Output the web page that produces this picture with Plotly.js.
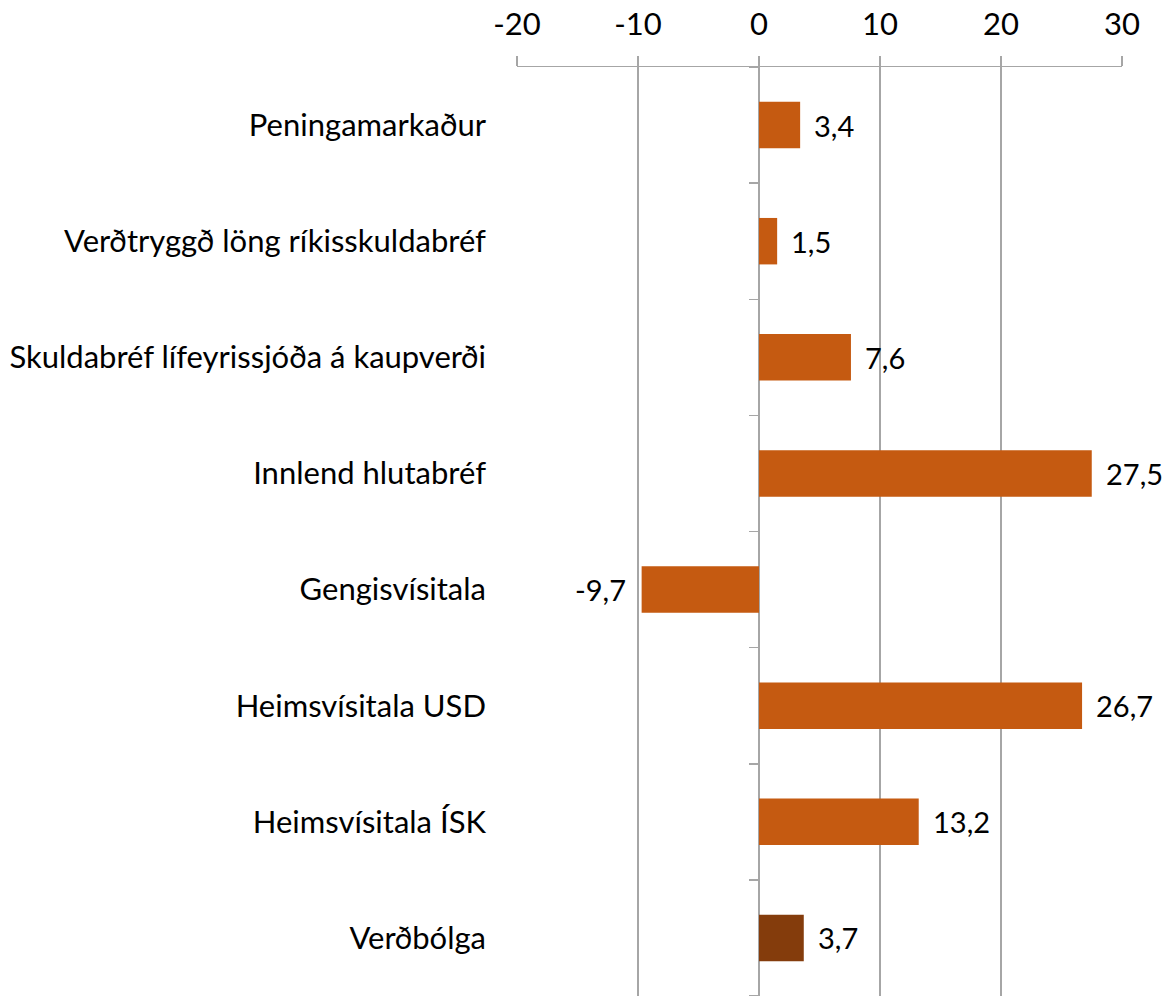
<!DOCTYPE html>
<html>
<head>
<meta charset="utf-8">
<script src="https://cdn.plot.ly/plotly-3.0.1.min.js"></script>
<style>html,body{margin:0;padding:0;background:#fff;}#chart{width:1167px;height:996px;}</style>
</head>
<body>
<div id="chart"></div>
<script>
const categories = [
  "Peningamarkaður",
  "Verðtryggð löng ríkisskuldabréf",
  "Skuldabréf lífeyrissjóða á kaupverði",
  "Innlend hlutabréf",
  "Gengisvísitala",
  "Heimsvísitala USD",
  "Heimsvísitala ÍSK",
  "Verðbólga"
];
const values = [3.4, 1.5, 7.6, 27.5, -9.7, 26.7, 13.2, 3.7];
const barColors = ["#C55A11","#C55A11","#C55A11","#C55A11","#C55A11","#C55A11","#C55A11","#843C0C"];
const xTicks = [-20, -10, 0, 10, 20, 30];

const FONT = "Lato, 'Open Sans', sans-serif";
const FS = 31;
const GRID = "#a6a6a6";

const fmt = v => v.toFixed(1).replace(".", ",");

const bars = {
  type: "bar",
  orientation: "h",
  x: values,
  y: categories,
  marker: {color: barColors, line: {width: 0}},
  hoverinfo: "skip",
  xaxis: "x",
  yaxis: "y"
};

const dummy = {
  type: "scatter",
  mode: "markers",
  x: [null],
  y: [null],
  xaxis: "x",
  yaxis: "y2",
  showlegend: false,
  hoverinfo: "skip"
};

const annotations = values.map((v, i) => ({
  x: v,
  y: categories[i],
  xref: "x",
  yref: "y",
  text: fmt(v),
  showarrow: false,
  xanchor: v >= 0 ? "left" : "right",
  xshift: v >= 0 ? 13 : -15,
  borderpad: 0,
  font: {family: FONT, size: 29, color: "#000"}
}));

const zeroPos = (0 - xTicks[0]) / (xTicks[xTicks.length - 1] - xTicks[0]);
const boundaries = [];
for (let i = 0; i <= categories.length; i++) boundaries.push(i - 0.5);

const layout = {
  width: 1167,
  height: 996,
  margin: {l: 517, r: 45, t: 67, b: 0, pad: 0},
  paper_bgcolor: "#fff",
  plot_bgcolor: "#fff",
  showlegend: false,
  bargap: 0.6,
  font: {family: FONT, size: FS, color: "#000"},
  xaxis: {
    side: "top",
    range: [xTicks[0], xTicks[xTicks.length - 1]],
    tickvals: xTicks,
    ticktext: xTicks.map(String),
    showgrid: true,
    gridcolor: GRID,
    gridwidth: 1.5,
    zeroline: true,
    zerolinecolor: GRID,
    zerolinewidth: 1.5,
    showline: true,
    linecolor: GRID,
    linewidth: 1.5,
    ticks: "outside",
    ticklen: 10,
    tickwidth: 1.5,
    tickcolor: GRID,
    ticklabelstandoff: 8,
    tickfont: {family: FONT, size: FS, color: "#000"},
    fixedrange: true
  },
  yaxis: {
    type: "category",
    categoryorder: "array",
    categoryarray: categories,
    range: [categories.length - 0.5, -0.5],
    showgrid: false,
    zeroline: false,
    showline: false,
    ticks: "",
    ticklabelstandoff: 30,
    tickfont: {family: FONT, size: FS, color: "#000"},
    fixedrange: true
  },
  yaxis2: {
    overlaying: "y",
    anchor: "free",
    position: zeroPos,
    side: "left",
    range: [categories.length - 0.5, -0.5],
    tickvals: boundaries,
    showticklabels: false,
    ticks: "outside",
    ticklen: 10,
    tickwidth: 1.5,
    tickcolor: GRID,
    showgrid: false,
    zeroline: false,
    showline: false,
    fixedrange: true
  },
  annotations: annotations
};

Plotly.newPlot("chart", [bars, dummy], layout, {displayModeBar: false, staticPlot: true});
</script>
</body>
</html>
